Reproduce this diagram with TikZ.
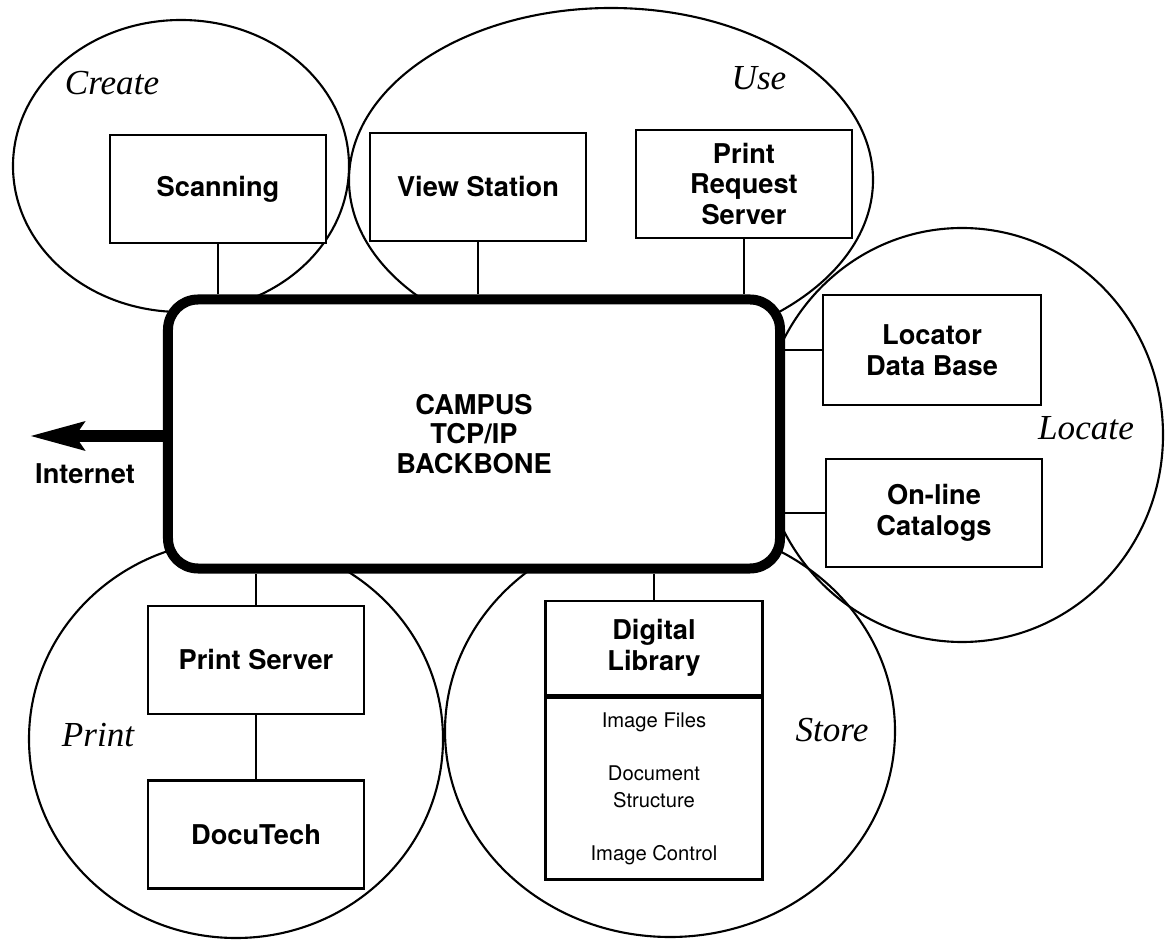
\documentclass[tikz,border=0pt]{standalone}
\usepackage{fontspec}
\setsansfont{TeX Gyre Heros}
\newfontfamily\zonefont{Liberation Serif}
\usetikzlibrary{arrows.meta,positioning,shapes.geometric}
\tikzset{
  zone/.style={
    draw=black,
    ellipse,
    line width=1.2pt,
    inner sep=0pt
  },
  zonelabel/.style={
    font=\zonefont\itshape\fontsize{20}{22}\selectfont
  },
  unit/.style={
    draw=black,
    fill=white,
    line width=1.5pt,
    align=center,
    minimum width=43.2mm,
    minimum height=21.6mm,
    inner sep=2pt,
    font=\sffamily\bfseries\fontsize{15.5}{17.6}\selectfont
  },
  link/.style={line width=1.2pt}
}
\begin{document}
\begin{tikzpicture}[x=0.2mm, y=-0.2mm]
  \useasboundingbox (0,0) rectangle (1165,940);
  % functional zones
  \node[zone, minimum width=67.2mm, minimum height=58.4mm] (create) at (181,166) {};
  \node[zone, minimum width=104.8mm, minimum height=68.8mm] (use) at (611,180) {};
  \node[zone, minimum width=80.4mm, minimum height=82.8mm] (locate) at (962,435) {};
  \node[zone, minimum width=82.8mm, minimum height=79.6mm] (print) at (236,739) {};
  \node[zone, minimum width=90mm, minimum height=82.4mm] (store) at (670,731) {};
  \node[zonelabel] at (112,83) {Create};
  \node[zonelabel] at (759,78) {Use};
  \node[zonelabel] at (1086,428) {Locate};
  \node[zonelabel] at (98,735) {Print};
  \node[zonelabel] at (832,730) {Store};
  % backbone
  \node[draw=black, fill=white, line width=2mm, rounded corners=6mm,
        minimum width=122.4mm, minimum height=53.8mm, align=center,
        font=\sffamily\bfseries\fontsize{15.5}{17}\selectfont] (bb) at (474,434)
        {CAMPUS\\TCP/IP\\BACKBONE};
  % attached units
  \node[unit] (scan) at (218,189) {Scanning};
  \node[unit] (view) at (478,187) {View Station};
  \node[unit] (preq) at (744,184) {Print\\Request\\Server};
  \node[unit, minimum width=43.6mm, minimum height=22mm] (ldb) at (932,350) {Locator\\Data Base};
  \node[unit, minimum width=43.2mm, minimum height=21.6mm] (cat) at (934,513) {On-line\\Catalogs};
  \node[unit] (pserv) at (256,660) {Print Server};
  \node[unit, below=12.8mm of pserv] (dtech) {DocuTech};
  \node[unit, minimum width=43.4mm, minimum height=18.8mm] (dlib) at (654,648) {Digital\\Library};
  \node[unit, below=0pt of dlib, minimum width=43.4mm, minimum height=36.4mm,
        font=\sffamily\fontsize{11.5}{15.3}\selectfont] (dfiles)
        {Image Files\\[5.2mm]Document\\Structure\\[5.2mm]Image Control};
  % links to the backbone
  \draw[link] (scan) -- (scan |- bb.north);
  \draw[link] (view) -- (view |- bb.north);
  \draw[link] (preq) -- (preq |- bb.north);
  \draw[link] (ldb) -- (ldb -| bb.east);
  \draw[link] (cat) -- (cat -| bb.east);
  \draw[link] (pserv) -- (pserv |- bb.south);
  \draw[link] (pserv) -- (dtech);
  \draw[link] (dlib) -- (dlib |- bb.south);
  % internet
  \coordinate (inet) at (29,436);
  \draw[line width=2.3mm, -{Stealth[length=10.8mm, width=5.4mm, inset=1.6mm]}] (bb.west |- inet) -- (inet);
  \node[font=\sffamily\bfseries\fontsize{15.5}{17.6}\selectfont] (inetlabel) at (85,474) {Internet};
\end{tikzpicture}
\end{document}
